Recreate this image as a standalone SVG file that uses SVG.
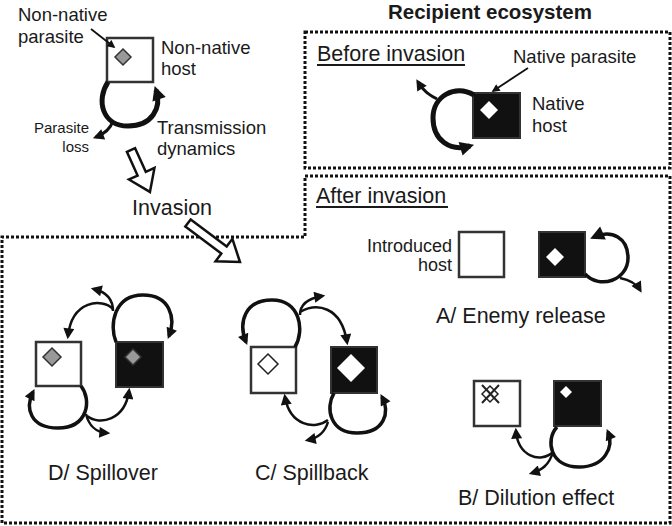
<svg xmlns="http://www.w3.org/2000/svg" width="672" height="526" viewBox="0 0 672 526">
<defs>
<style>
text{font-family:"Liberation Sans",Arial,sans-serif;fill:#1a1a1a}
.lbl{font-size:21.5px}
.med{font-size:18.5px}
.sm{font-size:15px}
.bd{fill:none;stroke:#111;stroke-width:3;stroke-dasharray:3 2}
.hw{fill:#fff;stroke:#333;stroke-width:2.5}
.hb{fill:#111;stroke:#333;stroke-width:2}
.loop{fill:none;stroke:#111;stroke-width:3.5}
.thick{fill:none;stroke:#111;stroke-width:5}
.br{fill:none;stroke:#111;stroke-width:2.5}
.blk{fill:#fff;stroke:#111;stroke-width:2.5;stroke-linejoin:miter}
.gd{fill:#999;stroke:#333;stroke-width:1.5}
.wd{fill:#fff;stroke:none}
.ul{stroke:#1a1a1a;stroke-width:1.8}
</style>
<marker id="big" viewBox="0 0 10 10" refX="7" refY="5" markerWidth="16" markerHeight="14" markerUnits="userSpaceOnUse" orient="auto"><path d="M0,0 L10,5 L0,10 z" fill="#111"/></marker>
<marker id="mid" viewBox="0 0 10 10" refX="7" refY="5" markerWidth="13" markerHeight="11" markerUnits="userSpaceOnUse" orient="auto"><path d="M0,0 L10,5 L0,10 z" fill="#111"/></marker>
<marker id="smm" viewBox="0 0 10 10" refX="8" refY="5" markerWidth="9" markerHeight="8" markerUnits="userSpaceOnUse" orient="auto"><path d="M0,0 L10,5 L0,10 z" fill="#111"/></marker>
</defs>
<rect width="672" height="526" fill="#fff"/>

<g id="boundaries">
<path class="bd" d="M305,32 H670 V168 H305 Z"/>
<path class="bd" d="M305,176 H670 V523 H2 V237 H305 Z"/>
</g>

<text x="490" y="19" text-anchor="middle" style="font-size:20.5px;font-weight:bold">Recipient ecosystem</text>

<g id="source">
<rect class="hw" x="107" y="38" width="46" height="44"/>
<path class="gd" d="M123,49 L131,57 L123,65 L115,57 Z"/>
<text class="med" x="18" y="21">Non-native</text>
<text class="med" x="18" y="43">parasite</text>
<text class="med" x="161" y="54">Non-native</text>
<text class="med" x="161" y="75">host</text>
<text class="sm" x="89" y="133" text-anchor="end">Parasite</text>
<text class="sm" x="89" y="152" text-anchor="end">loss</text>
<text class="med" x="157" y="134">Transmission</text>
<text class="med" x="157" y="155">dynamics</text>
</g>

<g id="before">
<text class="lbl" x="317" y="61">Before invasion</text>
<line class="ul" x1="317" y1="65" x2="465" y2="65"/>
<rect class="hb" x="473" y="93" width="47" height="45"/>
<path class="wd" d="M489,101 L498,110 L489,119 L480,110 Z"/>
<text class="med" x="513" y="63">Native parasite</text>
<text class="med" x="532" y="110">Native</text>
<text class="med" x="532" y="132">host</text>
</g>

<g id="after">
<text class="lbl" x="316" y="203">After invasion</text>
<line class="ul" x1="316" y1="207" x2="448" y2="207"/>
<text style="font-size:18px" x="452" y="252" text-anchor="end">Introduced</text>
<text style="font-size:18px" x="452" y="271" text-anchor="end">host</text>
</g>

<g id="A">
<rect class="hw" x="459" y="232" width="45" height="45"/>
<rect class="hb" x="539" y="232" width="46" height="45"/>
<path class="wd" d="M555,248 L564,257 L555,266 L546,257 Z"/>
<text class="lbl" x="436" y="323">A/ Enemy release</text>
</g>

<g id="B">
<rect class="hw" x="474" y="381" width="46" height="45"/>
<path d="M490,386 L498,394 L490,402 L482,394 Z" fill="#fff" stroke="#222" stroke-width="1.5"/>
<path d="M482,385 L499,403 M499,385 L482,403" stroke="#222" stroke-width="2" fill="none"/>
<rect class="hb" x="554" y="381" width="47" height="45"/>
<path class="wd" d="M566,386 L572,392 L566,398 L560,392 Z"/>
<text class="lbl" x="458" y="505">B/ Dilution effect</text>
</g>

<g id="C">
<rect class="hw" x="251" y="347" width="45" height="46"/>
<path d="M268,354 L278,364 L268,374 L258,364 Z" fill="#fff" stroke="#222" stroke-width="1.5"/>
<rect class="hb" x="331" y="347" width="46" height="46"/>
<path class="wd" d="M351,354 L365,368 L351,382 L337,368 Z"/>
<text class="lbl" x="255" y="480">C/ Spillback</text>
</g>

<g id="D">
<rect class="hw" x="36" y="342" width="45" height="44"/>
<path class="gd" d="M52,348 L61,357 L52,366 L43,357 Z"/>
<rect class="hb" x="116" y="342" width="47" height="45"/>
<path class="gd" d="M133,349 L141,357 L133,365 L125,357 Z"/>
<text class="lbl" x="48" y="480">D/ Spillover</text>
</g>

<g id="connectors">
<path class="br" style="stroke-width:1.8" d="M91,29 L114,47" marker-end="url(#smm)"/>
<path class="br" style="stroke-width:1.8" d="M528,68 L493,91" marker-end="url(#smm)"/>
<path class="thick" d="M108,82 C96,100 102,126 128,126 C152,126 162,108 156,90" marker-end="url(#big)"/>
<path class="br" style="stroke-width:3" d="M113,121 C110,130 104,134 96,137" marker-end="url(#mid)"/>
<path class="thick" d="M474,95 C455,84 433,96 433,118 C433,140 450,152 470,146" marker-end="url(#big)"/>
<path class="br" style="stroke-width:3" d="M437,99 C430,95 424,92 418,82" marker-end="url(#mid)"/>
<path class="loop" d="M585,274 C600,290 628,280 628,258 C628,238 612,229 594,237" marker-end="url(#big)"/>
<path class="br" d="M620,278 C630,280 636,283 640,290" marker-end="url(#mid)"/>
<path class="loop" d="M557,427 C545,440 550,467 579,467 C605,467 614,447 608,432" marker-end="url(#mid)"/>
<path class="br" d="M553,452 C540,464 518,456 516,431" marker-end="url(#mid)"/>
<path class="br" d="M553,452 C549,465 542,470 532,473" marker-end="url(#mid)"/>
<path class="loop" d="M116,342 C109,325 114,295 143,295 C170,295 176,318 169,336" marker-end="url(#mid)"/>
<path class="br" d="M113,309 C102,298 72,300 68,336" marker-end="url(#mid)"/>
<path class="br" d="M113,311 C113,299 106,292 94,289" marker-end="url(#mid)"/>
<path class="loop" d="M81,386 C92,400 88,428 58,428 C30,428 25,408 33,392" marker-end="url(#mid)"/>
<path class="br" d="M87,416 C100,426 125,420 129,391" marker-end="url(#mid)"/>
<path class="br" d="M86,414 C89,426 95,432 107,433" marker-end="url(#mid)"/>
<path class="loop" d="M295,347 C305,330 300,300 272,300 C245,300 238,322 246,342" marker-end="url(#mid)"/>
<path class="br" d="M300,312 C316,303 341,305 347,342" marker-end="url(#mid)"/>
<path class="br" d="M300,315 C300,303 310,298 322,296" marker-end="url(#mid)"/>
<path class="loop" d="M334,393 C325,408 330,433 357,433 C385,433 390,412 382,397" marker-end="url(#mid)"/>
<path class="br" d="M328,420 C315,430 290,426 285,397" marker-end="url(#mid)"/>
<path class="br" d="M328,422 C325,432 318,438 308,440" marker-end="url(#mid)"/>
</g>

<g id="invasion">
<path class="blk" transform="translate(131,150) rotate(65.7)" d="M0,-4.5 L26,-4.5 L26,-14 L46,0 L26,14 L26,4.5 L0,4.5 Z"/>
<text class="lbl" x="132" y="215">Invasion</text>
<path class="blk" transform="translate(188,223) rotate(36.9)" d="M0,-4.5 L45,-4.5 L45,-14 L65,0 L45,14 L45,4.5 L0,4.5 Z"/>
</g>
</svg>
